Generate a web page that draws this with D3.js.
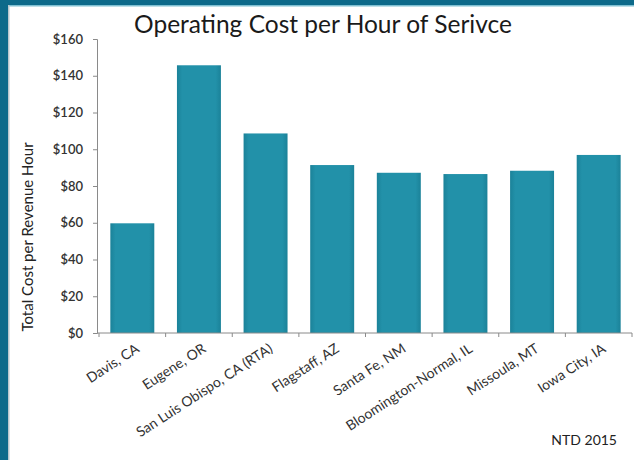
<!DOCTYPE html>
<html>
<head>
<meta charset="utf-8">
<script src="https://cdn.jsdelivr.net/npm/d3@7"></script>
<style>
  html, body { margin: 0; padding: 0; background: #ffffff; }
  svg { display: block; }
  text { font-family: Lato, "Open Sans", sans-serif; }
</style>
</head>
<body>
<svg id="chart" width="634" height="460"></svg>
<script>
// Transit agencies compared (NTD 2015)
const cities = ["Davis, CA", "Eugene, OR", "San Luis Obispo, CA (RTA)", "Flagstaff, AZ",
                "Santa Fe, NM", "Bloomington-Normal, IL", "Missoula, MT", "Iowa City, IA"];
// Total operating cost per revenue hour, dollars
const costPerHour = [59.7, 145.7, 108.6, 91.4, 87.2, 86.5, 88.3, 96.9];
const yTicks = [0, 20, 40, 60, 80, 100, 120, 140, 160];

const svg = d3.select("#chart");
const W = 634, H = 460;

// Slide panel: dark teal band on the left and top edges
svg.append("rect").attr("x", 0).attr("y", 0).attr("width", W).attr("height", H).attr("fill", "#ffffff");
svg.append("rect").attr("x", 0).attr("y", 0).attr("width", W).attr("height", 5).attr("fill", "#0d6a8a");
svg.append("rect").attr("x", 0).attr("y", 5).attr("width", W).attr("height", 1.5).attr("fill", "#7fc0d2");
svg.append("rect").attr("x", 0).attr("y", 0).attr("width", 8).attr("height", H).attr("fill", "#0d6a8a");
svg.append("rect").attr("x", 8).attr("y", 5).attr("width", 1.5).attr("height", H).attr("fill", "#b9c6cc");

const plot = { left: 97, right: 632, top: 39, bottom: 333 };

const x = d3.scaleBand()
  .domain(cities)
  .range([plot.left + 2, plot.right])
  .paddingInner(0.34)
  .paddingOuter(0.17);

const y = d3.scaleLinear()
  .domain([0, 160])
  .range([plot.bottom, plot.top]);

// Bar fill: slightly darker at the side edges
const defs = svg.append("defs");
const grad = defs.append("linearGradient").attr("id", "barFill")
  .attr("x1", "0").attr("x2", "1").attr("y1", "0").attr("y2", "0");
grad.append("stop").attr("offset", "0%").attr("stop-color", "#1b8299");
grad.append("stop").attr("offset", "12%").attr("stop-color", "#2291a9");
grad.append("stop").attr("offset", "88%").attr("stop-color", "#2291a9");
grad.append("stop").attr("offset", "100%").attr("stop-color", "#1b8299");

svg.append("g").selectAll("rect")
  .data(cities)
  .join("rect")
  .attr("x", d => x(d))
  .attr("width", x.bandwidth())
  .attr("y", (d, i) => y(costPerHour[i]))
  .attr("height", (d, i) => y(0) - y(costPerHour[i]))
  .attr("fill", "url(#barFill)");

// Y axis with dollar labels
const yAxis = d3.axisLeft(y)
  .tickValues(yTicks)
  .tickFormat(d => "$" + d)
  .tickSize(4)
  .tickPadding(10);

const gy = svg.append("g")
  .attr("transform", `translate(${plot.left},0)`)
  .call(yAxis);
gy.select(".domain").attr("stroke", "#8a8a8a");
gy.selectAll(".tick line").attr("stroke", "#8a8a8a");
gy.selectAll(".tick text")
  .attr("fill", "#333")
  .style("font-size", "13px")
  .style("font-weight", "600");

// X axis: line with ticks at the category boundaries
const gx = svg.append("g");
gx.append("line")
  .attr("x1", plot.left).attr("x2", plot.right)
  .attr("y1", plot.bottom).attr("y2", plot.bottom)
  .attr("stroke", "#8a8a8a");
const step = x.step();
const boundaries = cities.map(c => x(c) + x.bandwidth() / 2 - step / 2).concat([x(cities[cities.length - 1]) + x.bandwidth() / 2 + step / 2]);
gx.selectAll("line.tk")
  .data(boundaries)
  .join("line")
  .attr("class", "tk")
  .attr("x1", d => d).attr("x2", d => d)
  .attr("y1", plot.bottom).attr("y2", plot.bottom + 4)
  .attr("stroke", "#8a8a8a");

// Rotated category labels, anchored at their bar centres
gx.selectAll("text.cat")
  .data(cities)
  .join("text")
  .attr("class", "cat")
  .attr("text-anchor", "end")
  .attr("transform", d => `translate(${x(d) + x.bandwidth() / 2 + 8},${plot.bottom + 18}) rotate(-33)`)
  .attr("fill", "#333")
  .style("font-size", "14px")
  .text(d => d);

// Y axis title
svg.append("text")
  .attr("transform", "translate(33,237) rotate(-90)")
  .attr("text-anchor", "middle")
  .attr("fill", "#222")
  .style("font-size", "15px")
  .text("Total Cost per Revenue Hour");

// Chart title
svg.append("text")
  .attr("x", 323)
  .attr("y", 33)
  .attr("text-anchor", "middle")
  .attr("fill", "#1a1a1a")
  .style("font-size", "24.5px")
  .text("Operating Cost per Hour of Serivce");

// Source note
svg.append("text")
  .attr("x", 617)
  .attr("y", 445)
  .attr("text-anchor", "end")
  .attr("fill", "#222")
  .style("font-size", "14px")
  .text("NTD 2015");
</script>
</body>
</html>
